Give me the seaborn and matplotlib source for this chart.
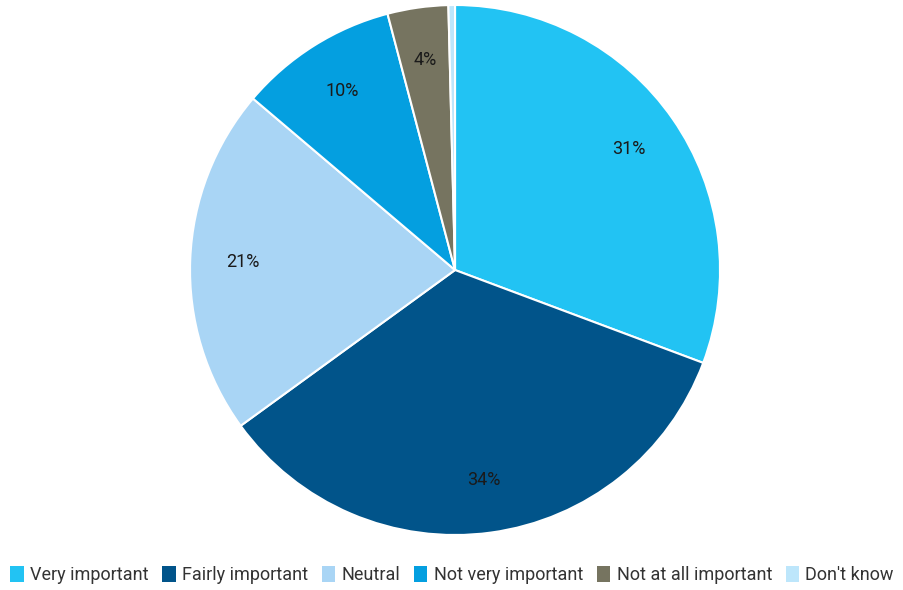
import matplotlib
matplotlib.use("Agg")
import matplotlib.pyplot as plt
from matplotlib.patches import Patch
import seaborn as sns

categories = ["Very important", "Fairly important", "Neutral",
              "Not very important", "Not at all important", "Don't know"]
shares = [30.7, 34.3, 21.2, 9.7, 3.7, 0.4]
colors = ["#22C3F3", "#01548A", "#A9D5F5", "#049FE0", "#767460", "#BDE6FB"]

sns.set_theme(style="white")
plt.rcParams["font.family"] = ["Roboto", "DejaVu Sans"]
palette = sns.color_palette(colors)

fig = plt.figure(figsize=(9.04, 5.90), dpi=100)
ax = fig.add_axes([0.5033 - 0.2931, 0.5424 - 0.4492, 0.5863, 0.8983])

def pct_label(p):
    return f"{p:.0f}%" if p >= 1 else ""

wedges, texts, autotexts = ax.pie(
    shares, colors=palette, startangle=90, counterclock=False,
    autopct=pct_label, pctdistance=0.8, radius=1,
    wedgeprops=dict(edgecolor="white", linewidth=1.5),
    textprops=dict(fontsize=13, color="#1a1a1a"),
)
ax.set_xlim(-1, 1)
ax.set_ylim(-1, 1)
ax.set_aspect("equal")
ax.axis("off")

handles = [Patch(facecolor=c, edgecolor="none") for c in palette]
fig.legend(handles, categories, loc="center", bbox_to_anchor=(0.5, 15 / 590),
           ncol=6, frameon=False, fontsize=13, handlelength=0.75, handleheight=0.95,
           handletextpad=0.35, columnspacing=0.75, labelcolor="#333333")

fig.savefig("out.png", dpi=100)
